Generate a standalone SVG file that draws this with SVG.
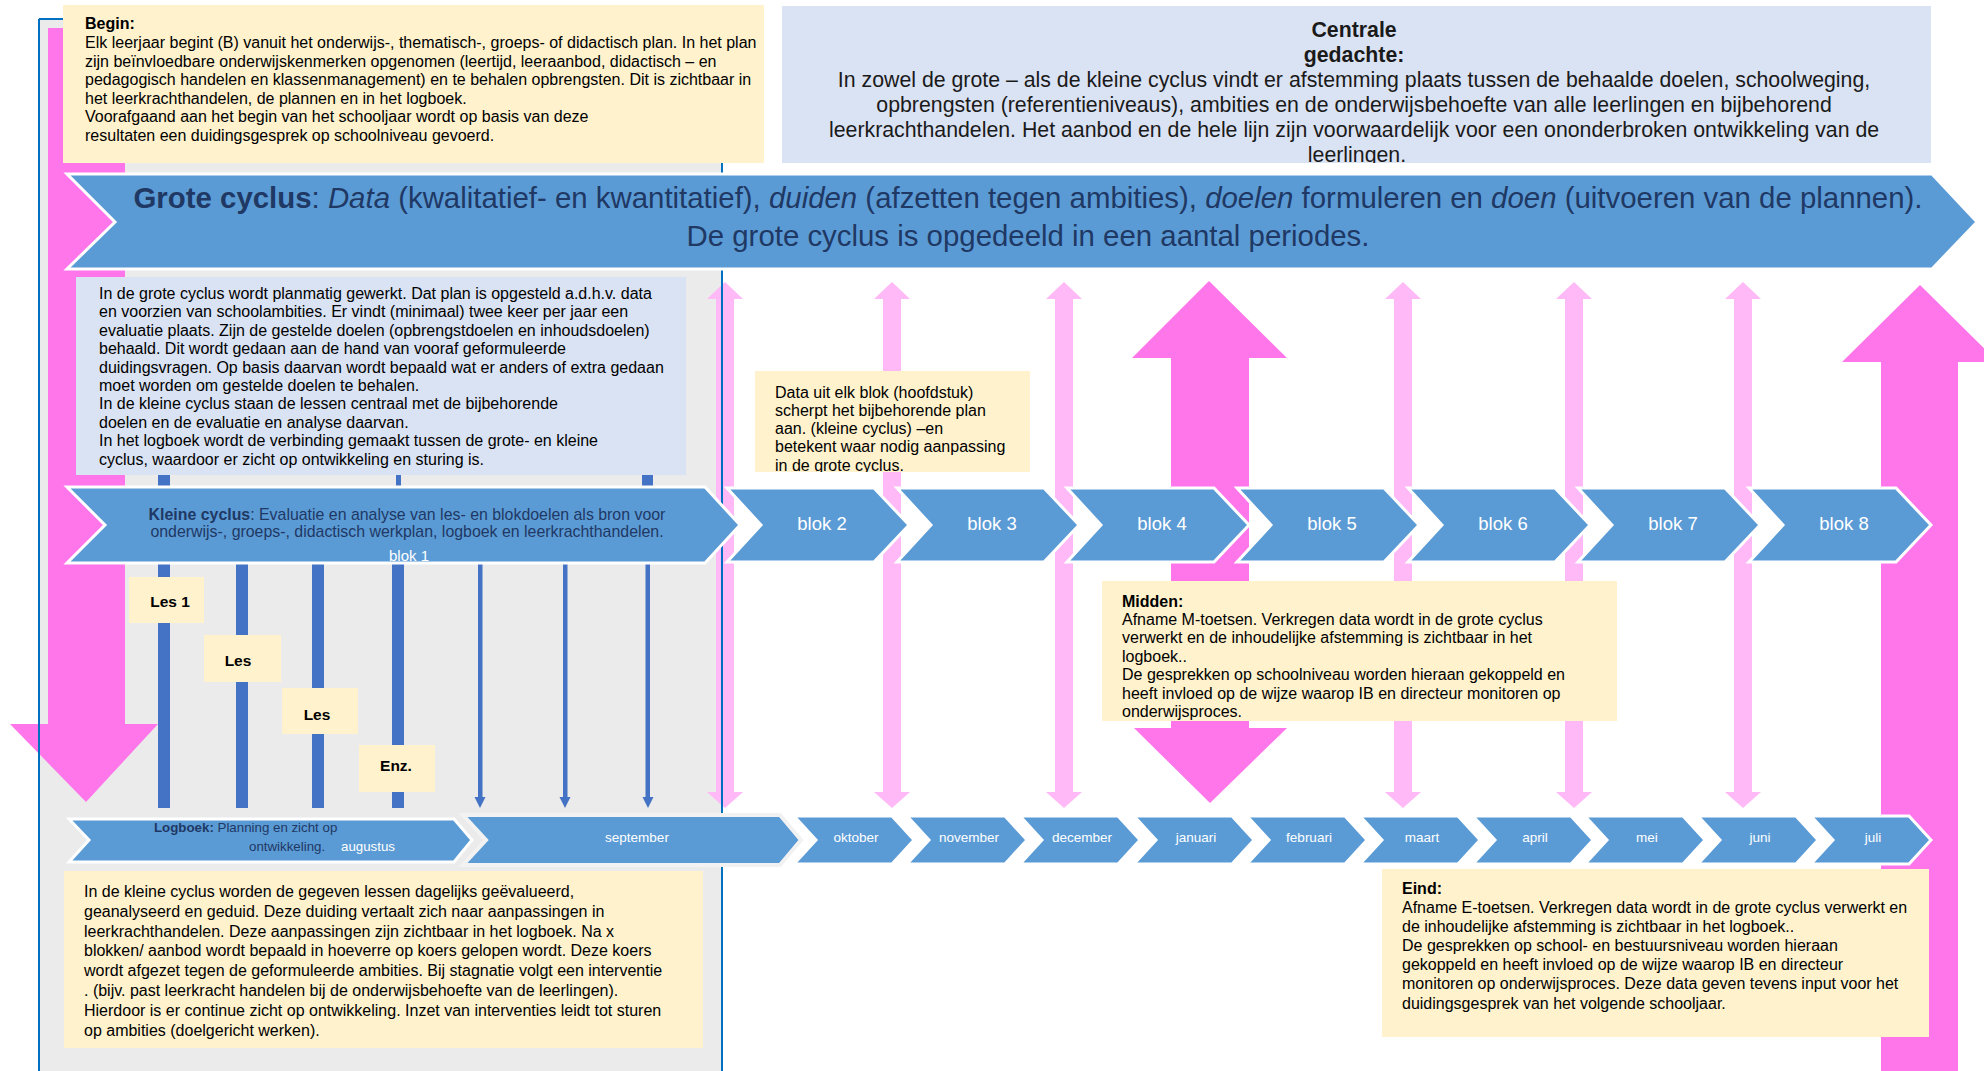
<svg xmlns="http://www.w3.org/2000/svg" width="1984" height="1071" viewBox="0 0 1984 1071">
<style>
text { font-family: "Liberation Sans", Arial, sans-serif; }
.body { font-size: 16px; fill: #000; }
.b { font-weight: bold; }
.i { font-style: italic; }
.yel { fill: #fff2cc; }
.lb { fill: #dae3f3; }
.chev { fill: #5b9bd5; stroke: #ffffff; stroke-width: 3; stroke-linejoin: miter; }
.mag { fill: #ff75ea; }
.lp { fill: #ffb9f7; }
.bar { fill: #4472c4; }
.navy { fill: #1f3864; }
.wt { fill: #ffffff; }
.mon { font-size: 13.5px; fill: #ffffff; text-anchor: middle; }
.blk { font-size: 18.5px; fill: #ffffff; text-anchor: middle; }
.les { font-size: 15.5px; font-weight: bold; fill: #000; text-anchor: middle; }
.border { stroke: #0070c0; stroke-width: 2; fill: none; }
</style>
<defs>
<path id="lpArrow" d="M-9,299 H-18 L0,282 L18,299 H9 V792 H18 L0,808 L-18,792 H-9 Z"/>
<path id="monChev" d="M0,816 H98 L120,840 L98,864 H0 L22,840 Z"/>
<path id="blkChev" d="M0,488 H147 L182,525 L147,562 H0 L34,525 Z"/>
<path id="thinHead" d="M-5.5,797 H5.5 L0,808 Z"/>
<clipPath id="clipCentrale"><rect x="782" y="6" width="1149" height="157"/></clipPath>
<clipPath id="clipData"><rect x="755" y="371" width="275" height="101"/></clipPath>
<clipPath id="clipMidden"><rect x="1102" y="581" width="515" height="140"/></clipPath>
</defs>

<rect x="0" y="0" width="1984" height="1071" fill="#ffffff"/>

<g id="panel-kleine-cyclus">
<rect x="39" y="19" width="683" height="1060" fill="#ebebeb"/>
</g>

<g id="connectors">
<path class="mag" d="M48,28 H125 V724 H158 L86,802 L10,724 H48 Z"/>
<rect class="bar" x="158" y="470" width="12" height="338"/>
<rect class="bar" x="236" y="560" width="12" height="248"/>
<rect class="bar" x="312" y="560" width="12" height="248"/>
<rect class="bar" x="392" y="560" width="12" height="248"/>
<rect class="bar" x="396" y="470" width="5" height="20"/>
<rect class="bar" x="642" y="470" width="11" height="20"/>
<rect class="bar" x="478" y="560" width="4.5" height="240"/>
<rect class="bar" x="563" y="560" width="4.5" height="240"/>
<rect class="bar" x="645.5" y="560" width="4.5" height="240"/>
<use href="#thinHead" x="480" class="bar"/>
<use href="#thinHead" x="565" class="bar"/>
<use href="#thinHead" x="648" class="bar"/>
<use href="#lpArrow" x="725" class="lp"/>
<use href="#lpArrow" x="892" class="lp"/>
<use href="#lpArrow" x="1064" class="lp"/>
<use href="#lpArrow" x="1403" class="lp"/>
<use href="#lpArrow" x="1574" class="lp"/>
<use href="#lpArrow" x="1743" class="lp"/>
<path class="mag" d="M1171,358 H1132 L1209,281 L1287,358 H1249 V728 H1287 L1210,803 L1134,728 H1171 Z"/>
<path class="mag" d="M1881,362 H1842 L1920,285 L1998,362 H1958 V1075 H1881 Z"/>
</g>

<g id="panel-border">
<line class="border" x1="39" y1="19" x2="39" y2="1071"/>
<line class="border" x1="722" y1="19" x2="722" y2="1071"/>
<line class="border" x1="39" y1="19" x2="722" y2="19"/>
</g>

<g id="grote-cyclus">
<path class="chev" d="M67,174 H1932 L1977,222 L1932,269 H67 L115,222 Z"/>
<text x="1028" y="208" text-anchor="middle" font-size="29.4" class="navy"><tspan class="b">Grote cyclus</tspan>: <tspan class="i">Data</tspan> (kwalitatief- en kwantitatief), <tspan class="i">duiden</tspan> (afzetten tegen ambities), <tspan class="i">doelen</tspan> formuleren en <tspan class="i">doen</tspan> (uitvoeren van de plannen).</text>
<text x="1028" y="246" text-anchor="middle" font-size="29.4" class="navy">De grote cyclus is opgedeeld in een aantal periodes.</text>
</g>

<g id="kleine-cyclus">
<path class="chev" d="M67,487 H705 L740,525 L705,563 H67 L105,525 Z"/>
<text x="407" y="520" text-anchor="middle" font-size="15.9" class="navy"><tspan class="b">Kleine cyclus</tspan>: Evaluatie en analyse van les- en blokdoelen als bron voor</text>
<text x="407" y="537" text-anchor="middle" font-size="15.9" class="navy">onderwijs-, groeps-, didactisch werkplan, logboek en leerkrachthandelen.</text>
<text x="409" y="561" text-anchor="middle" font-size="15" class="wt">blok 1</text>
</g>

<g id="blokken">
<g id="blok2"><use href="#blkChev" x="727" class="chev"/><text class="blk" x="822" y="530">blok 2</text></g>
<g id="blok3"><use href="#blkChev" x="897" class="chev"/><text class="blk" x="992" y="530">blok 3</text></g>
<g id="blok4"><use href="#blkChev" x="1067" class="chev"/><text class="blk" x="1162" y="530">blok 4</text></g>
<g id="blok5"><use href="#blkChev" x="1237" class="chev"/><text class="blk" x="1332" y="530">blok 5</text></g>
<g id="blok6"><use href="#blkChev" x="1408" class="chev"/><text class="blk" x="1503" y="530">blok 6</text></g>
<g id="blok7"><use href="#blkChev" x="1578" class="chev"/><text class="blk" x="1673" y="530">blok 7</text></g>
<g id="blok8"><use href="#blkChev" x="1749" class="chev"/><text class="blk" x="1844" y="530">blok 8</text></g>
</g>

<g id="maanden">
<g id="logboek">
<path class="chev" d="M69,819 H454 L472,840 L454,862 H69 L89,840 Z"/>
<text x="154" y="832" font-size="13.3" class="navy"><tspan class="b">Logboek:</tspan> Planning en zicht op</text>
<text x="249" y="851" font-size="13.3" class="navy">ontwikkeling.</text>
<text x="341" y="851" font-size="13.3" class="wt">augustus</text>
</g>
<g id="september">
<path d="M463,815 H780 L801,840 L780,865 H463 L486,840 Z" fill="#5b9bd5" stroke="#f2f2f2" stroke-width="4"/>
<text class="mon" x="637" y="842">september</text>
</g>
<g id="oktober"><use href="#monChev" x="794" class="chev"/><text class="mon" x="856" y="842">oktober</text></g>
<g id="november"><use href="#monChev" x="907" class="chev"/><text class="mon" x="969" y="842">november</text></g>
<g id="december"><use href="#monChev" x="1020" class="chev"/><text class="mon" x="1082" y="842">december</text></g>
<g id="januari"><use href="#monChev" x="1134" class="chev"/><text class="mon" x="1196" y="842">januari</text></g>
<g id="februari"><use href="#monChev" x="1247" class="chev"/><text class="mon" x="1309" y="842">februari</text></g>
<g id="maart"><use href="#monChev" x="1360" class="chev"/><text class="mon" x="1422" y="842">maart</text></g>
<g id="april"><use href="#monChev" x="1473" class="chev"/><text class="mon" x="1535" y="842">april</text></g>
<g id="mei"><use href="#monChev" x="1585" class="chev"/><text class="mon" x="1647" y="842">mei</text></g>
<g id="juni"><use href="#monChev" x="1698" class="chev"/><text class="mon" x="1760" y="842">juni</text></g>
<g id="juli"><use href="#monChev" x="1811" class="chev"/><text class="mon" x="1873" y="842">juli</text></g>
</g>

<g id="begin">
<rect class="yel" x="63" y="5" width="701" height="158"/>
<text class="body" x="85"><tspan class="b" y="29.3">Begin:</tspan>
<tspan x="85" y="48">Elk leerjaar begint (B) vanuit het onderwijs-, thematisch-, groeps- of didactisch plan. In het plan</tspan>
<tspan x="85" y="66.6">zijn beïnvloedbare onderwijskenmerken opgenomen (leertijd, leeraanbod, didactisch – en</tspan>
<tspan x="85" y="85.2">pedagogisch handelen en klassenmanagement) en te behalen opbrengsten. Dit is zichtbaar in</tspan>
<tspan x="85" y="103.8">het leerkrachthandelen, de plannen en in het logboek.</tspan>
<tspan x="85" y="122.4">Voorafgaand aan het begin van het schooljaar wordt op basis van deze</tspan>
<tspan x="85" y="141">resultaten een duidingsgesprek op schoolniveau gevoerd.</tspan></text>
</g>

<g id="centrale-gedachte">
<rect class="lb" x="782" y="6" width="1149" height="157"/>
<g clip-path="url(#clipCentrale)">
<text x="1357" text-anchor="middle" font-size="21.3" fill="#1a1a1a">
<tspan class="b" x="1357" y="37">Centrale</tspan>
<tspan class="b" x="1357" y="62">gedachte:</tspan>
<tspan x="1357" y="87">In zowel de grote – als de kleine cyclus vindt er afstemming plaats tussen de behaalde doelen, schoolweging,</tspan>
<tspan x="1357" y="112">opbrengsten (referentieniveaus), ambities en de onderwijsbehoefte van alle leerlingen en bijbehorend</tspan>
<tspan x="1357" y="137">leerkrachthandelen. Het aanbod en de hele lijn zijn voorwaardelijk voor een ononderbroken ontwikkeling van de</tspan>
<tspan x="1357" y="161.5">leerlingen.</tspan></text>
</g>
</g>

<g id="uitleg-grote-cyclus">
<rect class="lb" x="76" y="277" width="610" height="198"/>
<text class="body">
<tspan x="99" y="299">In de grote cyclus wordt planmatig gewerkt. Dat plan is opgesteld a.d.h.v. data</tspan>
<tspan x="99" y="317.4">en voorzien van schoolambities. Er vindt (minimaal) twee keer per jaar een</tspan>
<tspan x="99" y="335.8">evaluatie plaats. Zijn de gestelde doelen (opbrengstdoelen en inhoudsdoelen)</tspan>
<tspan x="99" y="354.2">behaald. Dit wordt gedaan aan de hand van vooraf geformuleerde</tspan>
<tspan x="99" y="372.6">duidingsvragen. Op basis daarvan wordt bepaald wat er anders of extra gedaan</tspan>
<tspan x="99" y="391">moet worden om gestelde doelen te behalen.</tspan>
<tspan x="99" y="409.4">In de kleine cyclus staan de lessen centraal met de bijbehorende</tspan>
<tspan x="99" y="427.8">doelen en de evaluatie en analyse daarvan.</tspan>
<tspan x="99" y="446.2">In het logboek wordt de verbinding gemaakt tussen de grote- en kleine</tspan>
<tspan x="99" y="464.6">cyclus, waardoor er zicht op ontwikkeling en sturing is.</tspan></text>
</g>

<g id="data-blok">
<rect class="yel" x="755" y="371" width="275" height="101"/>
<g clip-path="url(#clipData)">
<text class="body">
<tspan x="775" y="397.5">Data uit elk blok (hoofdstuk)</tspan>
<tspan x="775" y="415.8">scherpt het bijbehorende plan</tspan>
<tspan x="775" y="434.1">aan. (kleine cyclus) –en</tspan>
<tspan x="775" y="452.4">betekent waar nodig aanpassing</tspan>
<tspan x="775" y="470.7">in de grote cyclus.</tspan></text>
</g>
</g>

<g id="midden">
<rect class="yel" x="1102" y="581" width="515" height="140"/>
<g clip-path="url(#clipMidden)">
<text class="body">
<tspan class="b" x="1122" y="606.5">Midden:</tspan>
<tspan x="1122" y="624.9">Afname M-toetsen. Verkregen data wordt in de grote cyclus</tspan>
<tspan x="1122" y="643.3">verwerkt en de inhoudelijke afstemming is zichtbaar in het</tspan>
<tspan x="1122" y="661.7">logboek..</tspan>
<tspan x="1122" y="680.1">De gesprekken op schoolniveau worden hieraan gekoppeld en</tspan>
<tspan x="1122" y="698.5">heeft invloed op de wijze waarop IB en directeur monitoren op</tspan>
<tspan x="1122" y="717">onderwijsproces.</tspan></text>
</g>
</g>

<g id="eind">
<rect class="yel" x="1382" y="869" width="547" height="168"/>
<text class="body">
<tspan class="b" x="1402" y="894">Eind:</tspan>
<tspan x="1402" y="913">Afname E-toetsen. Verkregen data wordt in de grote cyclus verwerkt en</tspan>
<tspan x="1402" y="932">de inhoudelijke afstemming is zichtbaar in het logboek..</tspan>
<tspan x="1402" y="951">De gesprekken op school- en bestuursniveau worden hieraan</tspan>
<tspan x="1402" y="970">gekoppeld en heeft invloed op de wijze waarop IB en directeur</tspan>
<tspan x="1402" y="989">monitoren op onderwijsproces. Deze data geven tevens input voor het</tspan>
<tspan x="1402" y="1008.5">duidingsgesprek van het volgende schooljaar.</tspan></text>
</g>

<g id="uitleg-kleine-cyclus">
<rect class="yel" x="64" y="871" width="639" height="177"/>
<text class="body">
<tspan x="84" y="897">In de kleine cyclus worden de gegeven lessen dagelijks geëvalueerd,</tspan>
<tspan x="84" y="916.8">geanalyseerd en geduid. Deze duiding vertaalt zich naar aanpassingen in</tspan>
<tspan x="84" y="936.6">leerkrachthandelen. Deze aanpassingen zijn zichtbaar in het logboek. Na x</tspan>
<tspan x="84" y="956.4">blokken/ aanbod wordt bepaald in hoeverre op koers gelopen wordt. Deze koers</tspan>
<tspan x="84" y="976.2">wordt afgezet tegen de geformuleerde ambities. Bij stagnatie volgt een interventie</tspan>
<tspan x="84" y="996">. (bijv. past leerkracht handelen bij de onderwijsbehoefte van de leerlingen).</tspan>
<tspan x="84" y="1015.8">Hierdoor is er continue zicht op ontwikkeling. Inzet van interventies leidt tot sturen</tspan>
<tspan x="84" y="1035.6">op ambities (doelgericht werken).</tspan></text>
</g>

<g id="les1"><rect class="yel" x="129" y="577" width="75" height="46"/><text class="les" x="170" y="607">Les 1</text></g>
<g id="les2"><rect class="yel" x="204" y="635" width="77" height="47"/><text class="les" x="238" y="666">Les</text></g>
<g id="les3"><rect class="yel" x="282" y="688" width="76" height="46"/><text class="les" x="317" y="720">Les</text></g>
<g id="enz"><rect class="yel" x="359" y="745" width="76" height="47"/><text class="les" x="396" y="771">Enz.</text></g>
</svg>
